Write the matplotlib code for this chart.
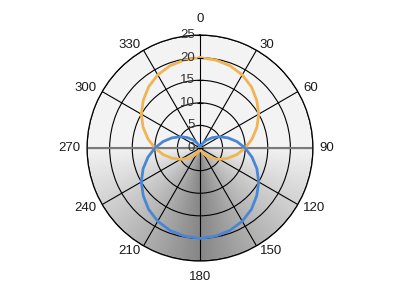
import numpy as np
import matplotlib
matplotlib.use('Agg')
import matplotlib.pyplot as plt
from matplotlib.colors import LinearSegmentedColormap
from matplotlib.transforms import offset_copy

# angles in degrees, 0 at top, clockwise
angles = [0, 10, 20, 30, 40, 50, 60, 70, 80, 90, 100, 110, 120, 130, 140, 150, 160, 170, 180,
          190, 200, 210, 220, 230, 240, 250, 260, 270, 280, 290, 300, 310, 320, 330, 340, 350, 360]
orange_r = [20, 19.8, 19.4, 18.7, 17.7, 16.4, 15, 13.4, 11.7, 10, 8.3, 6.6, 5, 3.6, 2.3, 1.3, 0.6, 0.2, 0,
            0.2, 0.6, 1.3, 2.3, 3.6, 5, 6.6, 8.3, 10, 11.7, 13.4, 15, 16.4, 17.7, 18.7, 19.4, 19.8, 20]
blue_r = [0, 0.2, 0.6, 1.3, 2.3, 3.6, 5, 6.6, 8.3, 10, 11.7, 13.4, 15, 16.4, 17.7, 18.7, 19.4, 19.8, 20,
          19.8, 19.4, 18.7, 17.7, 16.4, 15, 13.4, 11.7, 10, 8.3, 6.6, 5, 3.6, 2.3, 1.3, 0.6, 0.2, 0]
r_ticks = [0, 5, 10, 15, 20, 25]
theta_ticks = [0, 30, 60, 90, 120, 150, 180, 210, 240, 270, 300, 330]

plt.rcParams['font.family'] = ['Liberation Sans', 'DejaVu Sans']

fig = plt.figure(figsize=(4, 3), dpi=100)
ax = fig.add_axes([0.2175, 0.13, 0.565, 0.753], projection='polar')
ax.set_theta_zero_location('N')
ax.set_theta_direction(-1)
ax.set_ylim(0, 25)
ax.set_facecolor('#f3f3f3')

# shaded lower half: a fan from the centre, darkest straight down
th = np.radians(np.linspace(90, 270, 181))
rr = np.linspace(0, 25, 30)
T, R = np.meshgrid(th, rr)
C = np.abs(np.degrees(T) - 180) / 90
cmap = LinearSegmentedColormap.from_list('shade', ['#878787', '#b0b0b0', '#d2d2d2', '#f2f2f2'])
ax.pcolormesh(T, R, C, cmap=cmap, shading='gouraud', vmin=0, vmax=1, zorder=0.5)

ax.plot(np.radians(angles), orange_r, color='#f0b455', lw=2.0, zorder=3)
ax.plot(np.radians(angles), blue_r, color='#4a86d6', lw=2.0, zorder=3)

ax.set_xticks(np.radians(theta_ticks))
ax.set_xticklabels([])
ax.set_yticks(r_ticks)
ax.set_yticklabels([])
ax.grid(True, color='black', lw=0.8)
ax.spines['polar'].set_color('black')
ax.spines['polar'].set_linewidth(0.9)

# angle labels: nearest side of the text box sits just outside the ring
for t in theta_ticks:
    if t == 0:
        ha, va, rpos = 'center', 'bottom', 27.2
    elif t == 180:
        ha, va, rpos = 'center', 'top', 27.2
    elif t < 180:
        ha, va, rpos = 'left', 'center', 26.4
    else:
        ha, va, rpos = 'right', 'center', 26.4
    ax.text(np.radians(t), rpos, str(t), ha=ha, va=va, fontsize=9.5,
            color='#1a1a1a', clip_on=False)

# gray horizontal axis line
ax.plot(np.radians([90, 90]), [0, 25], color='#7a7a7a', lw=1.5, zorder=2)
ax.plot(np.radians([270, 270]), [0, 25], color='#7a7a7a', lw=1.5, zorder=2)

# radial labels to the left of the vertical line, with small tick marks
lab_tr = offset_copy(ax.transData, fig=fig, x=-3.5, y=0, units='points')
for r in r_ticks:
    ax.text(0, r, str(r), transform=lab_tr, ha='right', va='center',
            fontsize=9.5, color='#333333', zorder=4)
    ax.plot([0], [r], marker='_', color='black', ms=5, mew=0.8, zorder=4, clip_on=False)

fig.savefig('out.png', dpi=100)
